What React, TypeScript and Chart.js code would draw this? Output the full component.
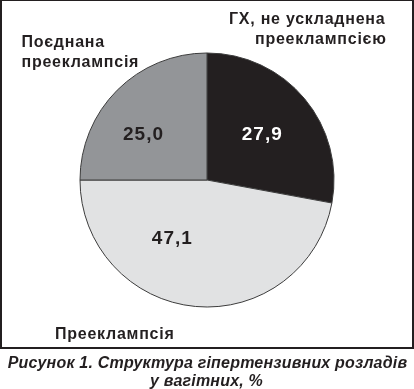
import React, { useEffect, useRef } from "react";
import { Chart, registerables } from "chart.js";

Chart.register(...registerables);

const categories = ["ГХ, не ускладнена прееклампсією", "Прееклампсія", "Поєднана прееклампсія"];
const values = [27.9, 47.1, 25.0];
const valueLabels = ["27,9", "47,1", "25,0"];
const sliceColors = ["#231f20", "#e1e2e3", "#939598"];
const valueColors = ["#ffffff", "#231f20", "#231f20"];
const categoryLines = [["ГХ, не ускладнена", "прееклампсією"], ["Прееклампсія"], ["Поєднана", "прееклампсія"]];
const captionLines = ["Рисунок 1. Структура гіпертензивних розладів", "у вагітних, %"];

// label placement styles (angle shift in degrees from slice middle, radius fraction)
const valueLabelPlacement = [[-0.7, 0.567], [26.3, 0.53], [-8.7, 0.625]];
const categoryPlacement = [
  { x: 229, y: 24, lh: 19.5, indent: [0, 26] },
  { x: 55, y: 338.5, lh: 20, indent: [0] },
  { x: 21.5, y: 46.5, lh: 20, indent: [0, 0] },
];

const FONT = '"Liberation Sans", Arial, sans-serif';

const textPlugin = {
  id: "customText",
  afterDatasetsDraw(chart: any) {
    const ctx = chart.ctx;
    const meta = chart.getDatasetMeta(0);
    ctx.save();
    // value labels
    ctx.font = `bold 19px ${FONT}`;
    ctx.letterSpacing = "1px";
    ctx.textAlign = "center";
    ctx.textBaseline = "alphabetic";
    meta.data.forEach((arc: any, i: number) => {
      const p = arc.getProps(["x", "y", "startAngle", "endAngle", "outerRadius"], true);
      const mid = (p.startAngle + p.endAngle) / 2 + (valueLabelPlacement[i][0] * Math.PI) / 180;
      const r = p.outerRadius * valueLabelPlacement[i][1];
      const x = p.x + Math.cos(mid) * r;
      const y = p.y + Math.sin(mid) * r;
      ctx.fillStyle = valueColors[i];
      ctx.fillText(valueLabels[i], x + 0.5, y + 7);
    });
    // category labels
    ctx.fillStyle = "#231f20";
    ctx.textAlign = "left";
    ctx.font = `bold 16px ${FONT}`;
    ctx.letterSpacing = "0.75px";
    categoryLines.forEach((lines, i) => {
      const pl = categoryPlacement[i];
      lines.forEach((t, j) => {
        ctx.fillText(t, pl.x + (pl.indent[j] || 0), pl.y + j * pl.lh);
      });
    });
    // caption
    ctx.font = `italic bold 16px ${FONT}`;
    ctx.letterSpacing = "0.2px";
    ctx.textAlign = "center";
    ctx.fillText(captionLines[0], 207.5, 367.5);
    ctx.fillText(captionLines[1], 206.5, 386);
    ctx.restore();
  },
};

export default function App() {
  const ref = useRef<HTMLCanvasElement>(null);
  useEffect(() => {
    document.body.style.margin = "0";
    const chart = new Chart(ref.current!, {
      type: "pie",
      data: {
        labels: categories,
        datasets: [
          {
            data: values,
            backgroundColor: sliceColors,
            borderColor: "#3c3c3c",
            borderWidth: 1,
          },
        ],
      },
      options: {
        responsive: false,
        animation: false,
        rotation: 0,
        layout: { padding: { top: 52.5, bottom: 81.5, left: 79.5, right: 79.5 } },
        plugins: { legend: { display: false }, tooltip: { enabled: false } },
      },
      plugins: [textPlugin],
    });
    return () => chart.destroy();
  }, []);
  return (
    <div style={{ position: "relative", width: 414, height: 389, background: "#fff" }}>
      <div
        style={{
          position: "absolute",
          left: 0,
          top: 0,
          width: 410,
          height: 346,
          borderLeft: "2px solid #231f20",
          borderRight: "2px solid #231f20",
          borderBottom: "2px solid #231f20",
          borderTop: "1px solid #231f20",
        }}
      />
      <canvas ref={ref} width={414} height={389} style={{ position: "absolute", left: 0, top: 0 }} />
    </div>
  );
}
